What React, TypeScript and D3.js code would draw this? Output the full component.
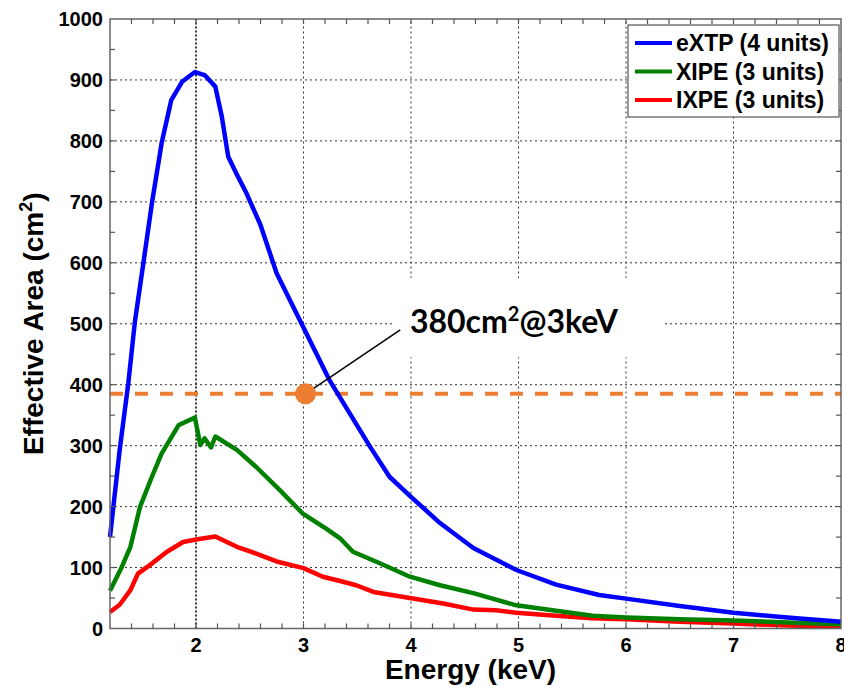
import React, { useRef, useEffect } from "react";
import * as d3 from "d3";

// energies (keV) and effective areas (cm^2)
const extpEnergy = [1.2, 1.29, 1.37, 1.43, 1.51, 1.59, 1.68, 1.77, 1.87, 1.99, 2.08, 2.18, 2.24, 2.3, 2.38, 2.47, 2.6, 2.75, 2.98, 3.24, 3.43, 3.62, 3.8, 4.0, 4.27, 4.58, 4.98, 5.35, 5.75, 6.0, 6.5, 7.0, 7.5, 8.0];
const extpArea = [150, 293, 402, 501, 599, 698, 796, 867, 897, 913, 908, 889, 840, 774, 745, 714, 662, 583, 501, 408, 353, 298, 249, 216, 173, 132, 96, 72, 55, 49, 37, 26, 18, 11];

const xipeEnergy = [1.2, 1.31, 1.39, 1.48, 1.59, 1.68, 1.84, 1.99, 2.04, 2.08, 2.14, 2.18, 2.38, 2.56, 2.78, 2.99, 3.21, 3.34, 3.46, 3.71, 3.99, 4.27, 4.58, 4.98, 5.35, 5.69, 6.0, 6.5, 7.0, 7.5, 8.0];
const xipeArea = [62, 101, 134, 200, 249, 287, 334, 346, 301, 312, 297, 315, 293, 265, 227, 189, 164, 148, 126, 107, 85, 71, 58, 38, 29, 21, 18, 15, 13, 10, 7];

const ixpeEnergy = [1.2, 1.29, 1.39, 1.46, 1.57, 1.73, 1.88, 2.0, 2.18, 2.38, 2.56, 2.75, 3.0, 3.18, 3.34, 3.49, 3.65, 3.99, 4.3, 4.58, 4.79, 4.98, 5.35, 5.69, 6.0, 6.5, 7.0, 7.5, 8.0];
const ixpeArea = [27, 39, 63, 90, 104, 126, 142, 146, 151, 134, 123, 110, 99, 85, 78, 71, 60, 50, 41, 31, 30, 26, 21, 17, 15, 11, 8, 5, 3];

const seriesNames = ["eXTP (4 units)", "XIPE (3 units)", "IXPE (3 units)"];
const seriesColors = ["#0000ff", "#008000", "#ff0000"];

const xTicks = [2, 3, 4, 5, 6, 7, 8];
const yTicks = [0, 100, 200, 300, 400, 500, 600, 700, 800, 900, 1000];

const markerEnergy = 3;
const markerArea = 385;
const annotationText = "380cm";

const W = 844;
const H = 687;
const FONT = "Arial, 'Liberation Sans', sans-serif";

function App() {
  const ref = useRef<SVGSVGElement>(null);

  useEffect(() => {
    const svg = d3.select(ref.current);
    svg.selectAll("*").remove();

    const x = d3.scaleLinear().domain([1.2, 8]).range([110, 841]);
    const y = d3.scaleLinear().domain([0, 1000]).range([628.5, 19]);
    const [x0, x1] = x.range();
    const [y0, y1] = y.range();

    svg.append("rect").attr("width", W).attr("height", H).attr("fill", "white");

    // grid
    const grid = svg.append("g").attr("stroke", "#333").attr("stroke-width", 1).attr("stroke-dasharray", "2,3");
    xTicks.filter((t) => t < 8).forEach((t) => {
      grid.append("line")
        .attr("x1", x(t)).attr("x2", x(t)).attr("y1", y0).attr("y2", y1)
        .attr("stroke-width", t === 2 ? 2 : 1)
        .attr("stroke-dasharray", t === 2 ? "2,2" : "2,3");
    });
    yTicks.filter((t) => t > 0 && t < 1000).forEach((t) => {
      grid.append("line").attr("x1", x0).attr("x2", x1).attr("y1", y(t)).attr("y2", y(t));
    });

    // white box behind annotation text
    svg.append("rect")
      .attr("x", x(3.85)).attr("y", y(575))
      .attr("width", x(6.34) - x(3.85)).attr("height", y(445) - y(575))
      .attr("fill", "white");

    // dashed reference line
    svg.append("line")
      .attr("x1", x0).attr("x2", x1).attr("y1", y(markerArea)).attr("y2", y(markerArea))
      .attr("stroke", "#ED7D31").attr("stroke-width", 4).attr("stroke-dasharray", "13,12");

    // curves
    const line = d3.line<[number, number]>().x((d) => x(d[0])).y((d) => y(d[1]));
    const series: [number, number][][] = [
      extpEnergy.map((e, i) => [e, extpArea[i]]),
      xipeEnergy.map((e, i) => [e, xipeArea[i]]),
      ixpeEnergy.map((e, i) => [e, ixpeArea[i]]),
    ];
    series.slice().reverse().forEach((s, i) => {
      svg.append("path")
        .datum(s)
        .attr("d", line)
        .attr("fill", "none")
        .attr("stroke", seriesColors[2 - i])
        .attr("stroke-width", 4.5)
        .attr("stroke-linejoin", "round");
    });

    // marker + pointer
    svg.append("line")
      .attr("x1", x(markerEnergy) + 2).attr("y1", y(markerArea))
      .attr("x2", x(3.9)).attr("y2", y(490))
      .attr("stroke", "black").attr("stroke-width", 1.5);
    svg.append("circle")
      .attr("cx", x(markerEnergy) + 2).attr("cy", y(markerArea)).attr("r", 10.5)
      .attr("fill", "#ED7D31");

    const ann = svg.append("text")
      .attr("x", x(3.99)).attr("y", y(485))
      .attr("font-family", "Lato, 'Open Sans', sans-serif")
      .attr("font-weight", "bold").attr("font-size", 32).attr("fill", "black");
    ann.append("tspan").text(annotationText);
    ann.append("tspan").attr("dy", -12).attr("font-size", 20).text("2");
    ann.append("tspan").attr("dy", 12).text("@3keV");

    // frame
    svg.append("rect")
      .attr("x", x0).attr("y", y1).attr("width", x1 - x0).attr("height", y0 - y1)
      .attr("fill", "none").attr("stroke", "#666").attr("stroke-width", 1.5);

    // ticks (inside, all four sides)
    const tk = svg.append("g").attr("stroke", "#555").attr("stroke-width", 1.2);
    const minorX = d3.range(1.4, 8, 0.2);
    minorX.forEach((t) => {
      tk.append("line").attr("x1", x(t)).attr("x2", x(t)).attr("y1", y0).attr("y2", y0 - 5);
      tk.append("line").attr("x1", x(t)).attr("x2", x(t)).attr("y1", y1).attr("y2", y1 + 5);
    });
    const minorY = d3.range(50, 1000, 50);
    minorY.forEach((t) => {
      tk.append("line").attr("x1", x0).attr("x2", x0 + 5).attr("y1", y(t)).attr("y2", y(t));
      tk.append("line").attr("x1", x1).attr("x2", x1 - 5).attr("y1", y(t)).attr("y2", y(t));
    });

    // tick labels
    svg.append("g").selectAll("text").data(yTicks).join("text")
      .attr("x", x0 - 7).attr("y", (d) => y(d)).attr("dy", "0.36em")
      .attr("text-anchor", "end")
      .attr("font-family", FONT).attr("font-weight", "bold").attr("font-size", 20)
      .text((d) => d);
    svg.append("g").selectAll("text").data(xTicks).join("text")
      .attr("x", (d) => x(d)).attr("y", 652)
      .attr("text-anchor", "middle")
      .attr("font-family", FONT).attr("font-weight", "bold").attr("font-size", 20)
      .text((d) => d);

    // axis labels
    svg.append("text")
      .attr("x", (x0 + x1) / 2 - 5).attr("y", 679)
      .attr("text-anchor", "middle")
      .attr("font-family", FONT).attr("font-weight", "bold").attr("font-size", 28)
      .text("Energy (keV)");
    const yl = svg.append("text")
      .attr("transform", `translate(43,${(y0 + y1) / 2}) rotate(-90)`)
      .attr("text-anchor", "middle")
      .attr("font-family", FONT).attr("font-weight", "bold").attr("font-size", 28);
    yl.append("tspan").text("Effective Area (cm");
    yl.append("tspan").attr("dy", -11).attr("font-size", 18).text("2");
    yl.append("tspan").attr("dy", 11).text(")");

    // legend
    const lg = svg.append("g");
    lg.append("rect")
      .attr("x", 628).attr("y", 25).attr("width", 211).attr("height", 92)
      .attr("fill", "white").attr("stroke", "#555").attr("stroke-width", 1.2);
    seriesNames.forEach((name, i) => {
      const cy = 43 + i * 28.5;
      lg.append("line").attr("x1", 635).attr("x2", 672).attr("y1", cy).attr("y2", cy)
        .attr("stroke", seriesColors[i]).attr("stroke-width", 4);
      lg.append("text").attr("x", 676).attr("y", cy).attr("dy", "0.36em")
        .attr("font-family", FONT).attr("font-weight", "bold").attr("font-size", 23)
        .text(name);
    });
  }, []);

  return (
    <svg
      ref={ref}
      width={W}
      height={H}
      style={{ position: "absolute", left: 0, top: 0 }}
    ></svg>
  );
}

export default App;
